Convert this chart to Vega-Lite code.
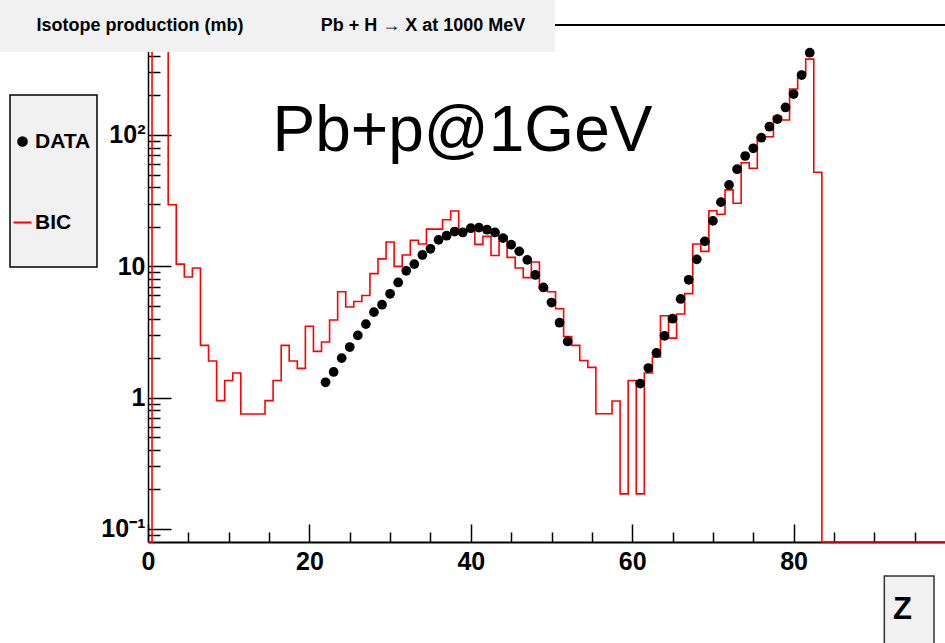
{
  "$schema": "https://vega.github.io/schema/vega-lite/v6.json",
  "width": 797,
  "height": 517,
  "autosize": {"type": "none"},
  "padding": {"left": 148, "top": 25, "right": 0, "bottom": 101},
  "background": "white",
  "config": {"view": {"stroke": null}, "font": "Liberation Sans"},
  "datasets": {
    "hist": [
      {"Z": 0, "BIC": null}, {"Z": 1, "BIC": 2000}, {"Z": 2, "BIC": 1000}, {"Z": 3, "BIC": 29.4},
      {"Z": 4, "BIC": 10.4}, {"Z": 5, "BIC": 8.3}, {"Z": 6, "BIC": 9.7}, {"Z": 7, "BIC": 2.5},
      {"Z": 8, "BIC": 1.9}, {"Z": 9, "BIC": 0.95}, {"Z": 10, "BIC": 1.35}, {"Z": 11, "BIC": 1.54},
      {"Z": 12, "BIC": 0.75}, {"Z": 13, "BIC": 0.75}, {"Z": 14, "BIC": 0.75}, {"Z": 15, "BIC": 0.95},
      {"Z": 16, "BIC": 1.35}, {"Z": 17, "BIC": 2.5}, {"Z": 18, "BIC": 1.9}, {"Z": 19, "BIC": 1.67},
      {"Z": 20, "BIC": 3.5}, {"Z": 21, "BIC": 2.25}, {"Z": 22, "BIC": 2.65}, {"Z": 23, "BIC": 3.9},
      {"Z": 24, "BIC": 6.4}, {"Z": 25, "BIC": 4.9}, {"Z": 26, "BIC": 5.4}, {"Z": 27, "BIC": 6.0},
      {"Z": 28, "BIC": 8.8}, {"Z": 29, "BIC": 11.4}, {"Z": 30, "BIC": 15.3}, {"Z": 31, "BIC": 10.0},
      {"Z": 32, "BIC": 12.2}, {"Z": 33, "BIC": 15.8}, {"Z": 34, "BIC": 14.8}, {"Z": 35, "BIC": 19.2},
      {"Z": 36, "BIC": 19.2}, {"Z": 37, "BIC": 22.6}, {"Z": 38, "BIC": 26.4}, {"Z": 39, "BIC": 18.4},
      {"Z": 40, "BIC": 19.2}, {"Z": 41, "BIC": 14.7}, {"Z": 42, "BIC": 16.9}, {"Z": 43, "BIC": 12.1},
      {"Z": 44, "BIC": 16.9}, {"Z": 45, "BIC": 11.7}, {"Z": 46, "BIC": 9.7}, {"Z": 47, "BIC": 8.2},
      {"Z": 48, "BIC": 10.8}, {"Z": 49, "BIC": 6.8}, {"Z": 50, "BIC": 6.4}, {"Z": 51, "BIC": 4.75},
      {"Z": 52, "BIC": 2.92}, {"Z": 53, "BIC": 2.5}, {"Z": 54, "BIC": 1.92}, {"Z": 55, "BIC": 1.7},
      {"Z": 56, "BIC": 0.755}, {"Z": 57, "BIC": 0.755}, {"Z": 58, "BIC": 0.944}, {"Z": 59, "BIC": 0.185},
      {"Z": 60, "BIC": 1.35}, {"Z": 61, "BIC": 0.185}, {"Z": 62, "BIC": 1.54}, {"Z": 63, "BIC": 2.04},
      {"Z": 64, "BIC": 4.2}, {"Z": 65, "BIC": 2.84}, {"Z": 66, "BIC": 4.33}, {"Z": 67, "BIC": 6.2},
      {"Z": 68, "BIC": 14.8}, {"Z": 69, "BIC": 13.0}, {"Z": 70, "BIC": 26.5}, {"Z": 71, "BIC": 24.9},
      {"Z": 72, "BIC": 38.2}, {"Z": 73, "BIC": 30.2}, {"Z": 74, "BIC": 61.5}, {"Z": 75, "BIC": 55.8},
      {"Z": 76, "BIC": 96}, {"Z": 77, "BIC": 97}, {"Z": 78, "BIC": 139}, {"Z": 79, "BIC": 130},
      {"Z": 80, "BIC": 224}, {"Z": 81, "BIC": 294}, {"Z": 82, "BIC": 378}, {"Z": 83, "BIC": 52},
      {"Z": 84, "BIC": null}, {"Z": 85, "BIC": null}, {"Z": 86, "BIC": null}, {"Z": 87, "BIC": null},
      {"Z": 88, "BIC": null}, {"Z": 89, "BIC": null}, {"Z": 90, "BIC": null}, {"Z": 91, "BIC": null},
      {"Z": 92, "BIC": null}, {"Z": 93, "BIC": null}, {"Z": 94, "BIC": null}, {"Z": 95, "BIC": null},
      {"Z": 96, "BIC": null}, {"Z": 97, "BIC": null}, {"Z": 98, "BIC": null}, {"Z": 99, "BIC": null},
      {"Z": 100, "BIC": null}
    ],
    "data": [
      {"Z": 22, "DATA": 1.31}, {"Z": 23, "DATA": 1.57}, {"Z": 24, "DATA": 2.0}, {"Z": 25, "DATA": 2.43},
      {"Z": 26, "DATA": 2.98}, {"Z": 27, "DATA": 3.63}, {"Z": 28, "DATA": 4.48}, {"Z": 29, "DATA": 5.1},
      {"Z": 30, "DATA": 6.18}, {"Z": 31, "DATA": 7.54}, {"Z": 32, "DATA": 9.25}, {"Z": 33, "DATA": 10.4},
      {"Z": 34, "DATA": 12.2}, {"Z": 35, "DATA": 13.6}, {"Z": 36, "DATA": 15.9}, {"Z": 37, "DATA": 17.1},
      {"Z": 38, "DATA": 18.4}, {"Z": 39, "DATA": 18.1}, {"Z": 40, "DATA": 19.5}, {"Z": 41, "DATA": 19.7},
      {"Z": 42, "DATA": 19.0}, {"Z": 43, "DATA": 18.1}, {"Z": 44, "DATA": 16.4}, {"Z": 45, "DATA": 14.6},
      {"Z": 46, "DATA": 13.0}, {"Z": 47, "DATA": 11.2}, {"Z": 48, "DATA": 8.6}, {"Z": 49, "DATA": 6.9},
      {"Z": 50, "DATA": 5.3}, {"Z": 51, "DATA": 3.72}, {"Z": 52, "DATA": 2.68},
      {"Z": 61, "DATA": 1.28}, {"Z": 62, "DATA": 1.68}, {"Z": 63, "DATA": 2.19}, {"Z": 64, "DATA": 2.96},
      {"Z": 65, "DATA": 3.99}, {"Z": 66, "DATA": 5.64}, {"Z": 67, "DATA": 7.9}, {"Z": 68, "DATA": 11.3},
      {"Z": 69, "DATA": 15.5}, {"Z": 70, "DATA": 22.2}, {"Z": 71, "DATA": 30.8}, {"Z": 72, "DATA": 41.7},
      {"Z": 73, "DATA": 54.9}, {"Z": 74, "DATA": 69.2}, {"Z": 75, "DATA": 79.2}, {"Z": 76, "DATA": 95.4},
      {"Z": 77, "DATA": 115.6}, {"Z": 78, "DATA": 132}, {"Z": 79, "DATA": 162}, {"Z": 80, "DATA": 205},
      {"Z": 81, "DATA": 286}, {"Z": 82, "DATA": 423}
    ]
  },
  "layer": [
    {
      "data": {"name": "hist"},
      "mark": {"type": "line", "interpolate": "step", "strokeWidth": 1.6, "invalid": "show"},
      "encoding": {
        "x": {
          "field": "Z", "type": "quantitative",
          "scale": {"domain": [0, 98.76], "nice": false, "zero": false},
          "axis": {
            "title": null,
            "values": [0, 5, 10, 15, 20, 25, 30, 35, 40, 45, 50, 55, 60, 65, 70, 75, 80, 85, 90, 95],
            "labelExpr": "datum.value % 20 == 0 ? datum.label : ''",
            "format": "d",
            "labelFont": "Liberation Sans, Arial, sans-serif",
            "labelFontWeight": "bold", "labelFontSize": 25, "labelColor": "black",
            "labelPadding": 25, "labelOverlap": false, "labelFlush": false, "labelBound": false,
            "ticks": true, "tickSize": {"expr": "datum.value % 20 == 0 ? -18 : -10"}, "tickColor": "black", "tickWidth": 1.5,
            "domainColor": "black", "domainWidth": 2, "grid": false
          }
        },
        "y": {
          "field": "BIC", "type": "quantitative",
          "scale": {"type": "log", "domain": [0.0796, 688], "nice": false},
          "axis": {
            "title": null,
            "values": [0.09, 0.1, 0.2, 0.3, 0.4, 0.5, 0.6, 0.7, 0.8, 0.9, 1, 2, 3, 4, 5, 6, 7, 8, 9, 10, 20, 30, 40, 50, 60, 70, 80, 90, 100, 200, 300, 400, 500, 600],
            "labelExpr": "datum.value == 0.1 ? '10⁻¹' : datum.value == 1 ? '1' : datum.value == 10 ? '10' : datum.value == 100 ? '10²' : ''",
            "labelFont": "Liberation Sans, Arial, sans-serif",
            "labelFontWeight": "bold", "labelFontSize": 25, "labelColor": "black",
            "labelPadding": 26, "labelOverlap": false, "labelFlush": false, "labelBound": false,
            "ticks": true, "tickSize": {"expr": "indexof([0.1, 1, 10, 100], datum.value) >= 0 ? -23 : -12"}, "tickColor": "black", "tickWidth": 1.5,
            "domainColor": "black", "domainWidth": 1.5, "grid": false
          }
        },
        "color": {
          "datum": "BIC",
          "scale": {"domain": ["DATA", "BIC"], "range": ["black", "#ff0000"]},
          "legend": {
            "title": null, "orient": "none", "direction": "vertical", "legendX": -136, "legendY": 106,
            "labelFont": "Liberation Sans, Arial, sans-serif",
            "labelFontWeight": "bold", "labelFontSize": 21, "labelColor": "black",
            "symbolSize": 324, "rowPadding": 59, "padding": 0, "labelOffset": 2,
            "encode": {"symbols": {"update": {
              "shape": {"signal": "datum.value === 'BIC' ? 'stroke' : 'circle'"},
              "size": {"signal": "datum.value === 'BIC' ? 324 : 75"},
              "fill": {"signal": "datum.value === 'DATA' ? 'black' : 'transparent'"},
              "stroke": {"signal": "datum.value === 'BIC' ? '#ff0000' : 'transparent'"},
              "strokeWidth": {"value": 2},
              "opacity": {"value": 1}
            }}}
          }
        }
      }
    },
    {
      "data": {"name": "data"},
      "mark": {"type": "circle", "size": 95, "opacity": 1},
      "encoding": {
        "x": {"field": "Z", "type": "quantitative"},
        "y": {"field": "DATA", "type": "quantitative"},
        "color": {"datum": "DATA"}
      }
    },
    {
      "data": {"values": [{}]},
      "mark": {"type": "rule", "color": "black", "strokeWidth": 2},
      "encoding": {"y": {"datum": 688}}
    },
    {
      "data": {"values": [{}]},
      "mark": {"type": "rect", "fill": "#f1f1f1"},
      "encoding": {"x": {"datum": -18.34}, "x2": {"datum": 50.43}, "y": {"datum": 1164}, "y2": {"datum": 428.6}}
    },
    {
      "data": {"values": [{"t": "Isotope production (mb)"}]},
      "mark": {"type": "text", "font": "Liberation Sans, Arial, sans-serif", "fontWeight": "bold", "fontSize": 18, "align": "center", "baseline": "middle", "color": "black"},
      "encoding": {"x": {"datum": -0.99}, "y": {"datum": 676}, "text": {"field": "t"}}
    },
    {
      "data": {"values": [{"t": "Pb + H → X at 1000 MeV"}]},
      "mark": {"type": "text", "font": "Liberation Sans, Arial, sans-serif", "fontWeight": "bold", "fontSize": 18, "align": "center", "baseline": "middle", "color": "black"},
      "encoding": {"x": {"datum": 34.08}, "y": {"datum": 676}, "text": {"field": "t"}}
    },
    {
      "data": {"values": [{}]},
      "mark": {"type": "rect", "fill": "#f1f1f1", "stroke": "black", "strokeWidth": 1.5},
      "encoding": {"x": {"datum": -17.1}, "x2": {"datum": -6.32}, "y": {"datum": 201.7}, "y2": {"datum": 9.88}}
    },
    {
      "data": {"values": [{"t": "Pb+p@1GeV"}]},
      "mark": {"type": "text", "font": "Liberation Sans, Arial, sans-serif", "fontSize": 64, "align": "center", "baseline": "alphabetic", "color": "black"},
      "encoding": {"x": {"datum": 38.97}, "y": {"datum": 75.5}, "text": {"field": "t"}}
    },
    {
      "data": {"values": [{}]},
      "mark": {"type": "rect", "fill": "#f1f1f1", "stroke": "#333333", "strokeWidth": 1.5},
      "encoding": {"x": {"datum": 91.24}, "x2": {"datum": 97.4}, "y": {"datum": 0.04385}, "y2": {"datum": 0.01199}}
    },
    {
      "data": {"values": [{"t": "Z"}]},
      "mark": {"type": "text", "font": "Liberation Sans, Arial, sans-serif", "fontWeight": "bold", "fontSize": 31, "align": "center", "baseline": "middle", "color": "black"},
      "encoding": {"x": {"datum": 93.49}, "y": {"datum": 0.02416}, "text": {"field": "t"}}
    }
  ]
}
